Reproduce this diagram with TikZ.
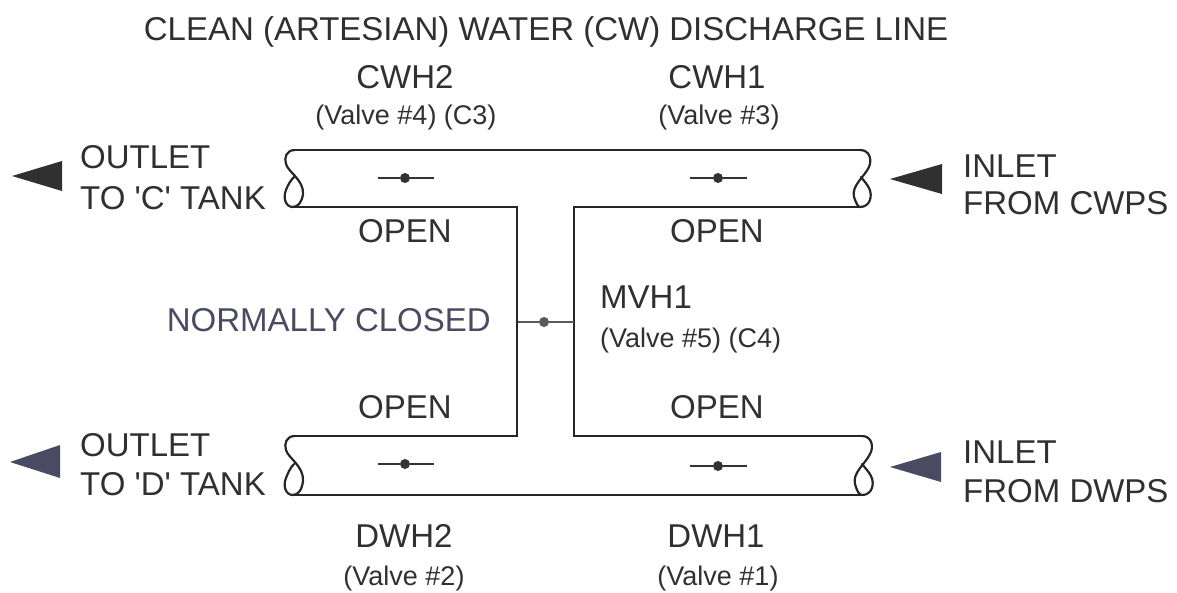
\documentclass[tikz,border=0pt]{standalone}
\usepackage{fontspec}
\setmainfont{Liberation Sans}
\definecolor{inkgrey}{HTML}{303030}
\definecolor{slategrey}{HTML}{4A4A62}
\tikzset{
    bigtext/.style={text=inkgrey, inner sep=0pt, font=\fontsize{33}{36}\selectfont},
    smalltext/.style={text=inkgrey, inner sep=0pt, font=\fontsize{27}{30}\selectfont},
    pipeline/.style={line width=2.2pt, draw=black!85, line cap=round},
    valvedot/.style={circle, fill=black!80, inner sep=0pt, minimum size=10pt},
    valvestem/.style={line width=2.4pt, draw=black!80},
    flowarrow/.style={fill=#1, draw=none}
}
\begin{document}
\begin{tikzpicture}[x=1pt, y=-1pt]
    \useasboundingbox (0, 0) rectangle (1177, 592);

    % title and upper labels
    \node[bigtext] (title) at (546, 32) {CLEAN (ARTESIAN) WATER (CW) DISCHARGE LINE};
    \node[bigtext] (cwh2) at (405, 77) {CWH2};
    \node[smalltext] (cwh2v) at (406, 118) {(Valve \#4) (C3)};
    \node[bigtext] (cwh1) at (717, 77) {CWH1};
    \node[smalltext] (cwh1v) at (719, 118) {(Valve \#3)};
    \node[bigtext] (open2) at (405, 231) {OPEN};
    \node[bigtext] (open1) at (717, 231) {OPEN};

    % left and right labels
    \node[bigtext, anchor=west] (outc) at (80, 157) {OUTLET};
    \node[bigtext, anchor=west] (toc) at (80, 198) {TO \textquotesingle C\textquotesingle{} TANK};
    \node[bigtext, anchor=west] (outd) at (80, 445) {OUTLET};
    \node[bigtext, anchor=west] (tod) at (80, 484) {TO \textquotesingle D\textquotesingle{} TANK};
    \node[bigtext, anchor=west] (inc) at (963, 166) {INLET};
    \node[bigtext, anchor=west] (fromc) at (963, 203) {FROM CWPS};
    \node[bigtext, anchor=west] (ind) at (963, 452) {INLET};
    \node[bigtext, anchor=west] (fromd) at (963, 491) {FROM DWPS};

    % middle labels
    \node[bigtext, text=slategrey, anchor=east] (closed) at (491, 320) {NORMALLY CLOSED};
    \node[bigtext, anchor=west] (mvh1) at (600, 297) {MVH1};
    \node[smalltext, anchor=west] (mvh1v) at (600, 341) {(Valve \#5) (C4)};

    % lower labels
    \node[bigtext] (open4) at (405, 407) {OPEN};
    \node[bigtext] (open3) at (717, 407) {OPEN};
    \node[bigtext] (dwh2) at (404, 536) {DWH2};
    \node[smalltext] (dwh2v) at (404, 579) {(Valve \#2)};
    \node[bigtext] (dwh1) at (716, 536) {DWH1};
    \node[smalltext] (dwh1v) at (718, 579) {(Valve \#1)};

    % pipe walls
    \draw[pipeline] (293, 207) -- (517, 207) -- (517, 436) -- (295, 436);
    \draw[pipeline] (860, 207) -- (574, 207) -- (574, 436) -- (862, 436);
    \draw[pipeline] (295, 150) -- (860, 150);
    \draw[pipeline] (293, 495) -- (862, 495);

    % twisted pipe ends, upper left
    \draw[pipeline] (295, 150) .. controls (286, 150) and (284, 158) .. (286, 164)
        .. controls (288, 172) and (304, 180) .. (303, 194)
        .. controls (302, 202) and (298, 207) .. (293, 207)
        .. controls (285, 207) and (283, 197) .. (286, 190)
        .. controls (288, 185) and (290, 181) .. (294, 177);
    % lower left
    \draw[pipeline] (295, 436) .. controls (286, 436) and (284, 444) .. (286, 450)
        .. controls (288, 458) and (304, 466) .. (303, 481)
        .. controls (302, 490) and (298, 495) .. (293, 495)
        .. controls (285, 495) and (283, 485) .. (286, 478)
        .. controls (288, 473) and (290, 468) .. (294, 464);
    % upper right
    \draw[pipeline] (860, 150) .. controls (870, 150) and (872, 160) .. (869, 167)
        .. controls (865, 176) and (851, 186) .. (854, 197)
        .. controls (856, 203) and (858, 207) .. (860, 207)
        .. controls (870, 207) and (873, 196) .. (869, 188)
        .. controls (867, 184) and (864, 181) .. (861, 177);
    % lower right
    \draw[pipeline] (862, 436) .. controls (872, 436) and (874, 447) .. (870, 454)
        .. controls (866, 463) and (852, 473) .. (855, 484)
        .. controls (857, 491) and (859, 495) .. (862, 495)
        .. controls (872, 495) and (875, 484) .. (871, 476)
        .. controls (869, 472) and (866, 469) .. (862, 464);

    % valves
    \node[valvedot] (vc2) at (405, 178) {};
    \coordinate (vc2a) at (378, 178);
    \coordinate (vc2b) at (434, 178);
    \draw[valvestem] (vc2a) -- (vc2) -- (vc2b);

    \node[valvedot] (vc1) at (718, 178) {};
    \coordinate (vc1a) at (690, 178);
    \coordinate (vc1b) at (747, 178);
    \draw[valvestem] (vc1a) -- (vc1) -- (vc1b);

    \node[valvedot] (vd2) at (405, 464) {};
    \coordinate (vd2a) at (378, 464);
    \coordinate (vd2b) at (434, 464);
    \draw[valvestem] (vd2a) -- (vd2) -- (vd2b);

    \node[valvedot] (vd1) at (718, 466) {};
    \coordinate (vd1a) at (690, 466);
    \coordinate (vd1b) at (747, 466);
    \draw[valvestem] (vd1a) -- (vd1) -- (vd1b);

    \node[valvedot, fill=black!65] (vm) at (544, 322) {};
    \coordinate (vma) at (518, 322);
    \coordinate (vmb) at (574, 322);
    \draw[valvestem, draw=black!65] (vma) -- (vm) -- (vmb);

    % flow arrows
    \fill[flowarrow=inkgrey] (12, 176) -- (62, 161) -- (62, 191) -- cycle;
    \fill[flowarrow=slategrey] (10, 462) -- (60, 445) -- (60, 478) -- cycle;
    \fill[flowarrow=inkgrey] (890, 179) -- (942, 164) -- (942, 194) -- cycle;
    \fill[flowarrow=slategrey] (890, 467) -- (941, 452) -- (941, 482) -- cycle;
\end{tikzpicture}
\end{document}
